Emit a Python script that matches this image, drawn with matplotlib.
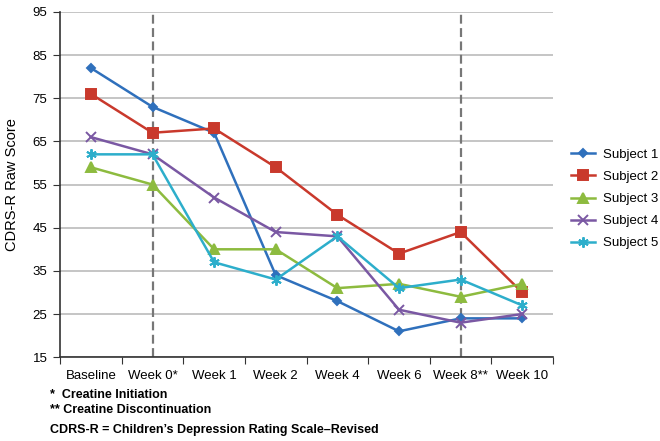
import matplotlib
matplotlib.use("Agg")
import matplotlib.pyplot as plt
import numpy as np

VISITS = ["Baseline", "Week 0*", "Week 1", "Week 2", "Week 4", "Week 6", "Week 8**", "Week 10"]
SUBJECT_1 = [82, 73, 67, 34, 28, 21, 24, 24]
SUBJECT_2 = [76, 67, 68, 59, 48, 39, 44, 30]
SUBJECT_3 = [59, 55, 40, 40, 31, 32, 29, 32]
SUBJECT_4 = [66, 62, 52, 44, 43, 26, 23, 25]
SUBJECT_5 = [62, 62, 37, 33, 43, 31, 33, 27]
Y_TICKS = [15, 25, 35, 45, 55, 65, 75, 85, 95]

SERIES = [
    ("Subject 1", SUBJECT_1, "#2F70BC", "D", 4.5),
    ("Subject 2", SUBJECT_2, "#C9392C", "s", 6.5),
    ("Subject 3", SUBJECT_3, "#8DBB3F", "^", 6.5),
    ("Subject 4", SUBJECT_4, "#7A58A3", "x", 6.5),
    ("Subject 5", SUBJECT_5, "#2DAECB", (6, 2, 0), 7.5),
]

plt.rcParams["font.family"] = ["Liberation Sans", "DejaVu Sans"]

fig = plt.figure(figsize=(6.6, 4.41), dpi=100)
ax = fig.add_axes([0.091, 0.19, 0.747, 0.783])

x = np.arange(len(VISITS)) + 0.5
for name, vals, col, mk, ms in SERIES:
    ax.plot(x, vals, color=col, lw=1.8, marker=mk, ms=ms, mew=1.4,
            label=name, zorder=3)

# creatine initiation / discontinuation markers
for xv in (x[1], x[6]):
    ax.axvline(xv, color="#777777", lw=1.6, ls=(0, (4, 2)), zorder=2)

ax.set_xlim(0, len(VISITS))
ax.set_ylim(15, 95)
ax.set_yticks(Y_TICKS)
ax.yaxis.grid(True, color="#BBBBBB", lw=1.2)
ax.set_axisbelow(True)
ax.set_xticks(np.arange(len(VISITS) + 1))
ax.set_xticklabels([])
ax.set_xticks(x, minor=True)
ax.set_xticklabels(VISITS, minor=True, fontsize=9.5)
ax.tick_params(axis="x", which="minor", length=0, pad=9)
ax.tick_params(axis="x", which="major", length=5, color="#333333")
ax.tick_params(axis="y", length=5, labelsize=9.5, color="#333333", pad=4)
for s in ("top", "right"):
    ax.spines[s].set_visible(False)
for s in ("left", "bottom"):
    ax.spines[s].set_color("#333333")
    ax.spines[s].set_linewidth(1.2)
ax.set_ylabel("CDRS-R Raw Score", fontsize=10.5, labelpad=10)

ax.legend(loc="center left", bbox_to_anchor=(571 / 660, 1 - 199 / 441),
          bbox_transform=fig.transFigure, frameon=False, borderpad=0,
          borderaxespad=0, fontsize=9.5, handlelength=1.8, handletextpad=0.6,
          labelspacing=0.75)

fig.text(0.075, 0.098, "*  Creatine Initiation", fontsize=9, fontweight="bold")
fig.text(0.075, 0.064, "** Creatine Discontinuation", fontsize=9, fontweight="bold")
fig.text(0.075, 0.018, "CDRS-R = Children\u2019s Depression Rating Scale\u2013Revised",
         fontsize=9, fontweight="bold")

fig.savefig("out.png", dpi=100)
